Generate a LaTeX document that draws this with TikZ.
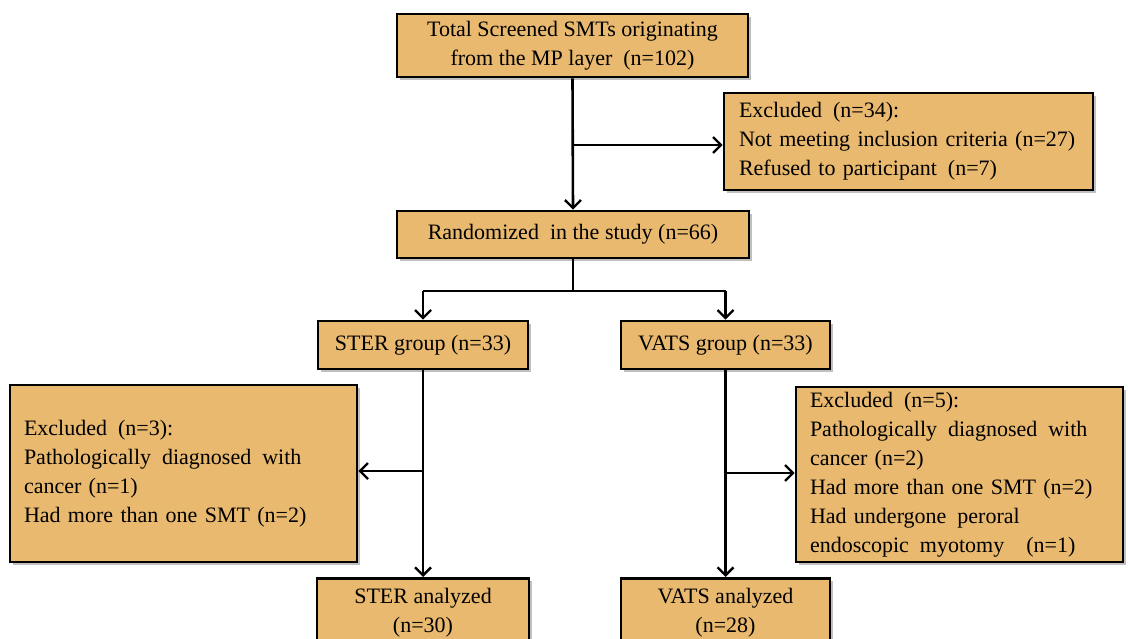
\documentclass[tikz,border=0pt]{standalone}
\usepackage{fontspec}
\setmainfont{Liberation Serif}
\usetikzlibrary{arrows.meta,shadows}
\definecolor{boxfill}{RGB}{232,185,110}
\begin{document}
\begin{tikzpicture}[x=1pt,y=-1pt,
  box/.style={draw=black, line width=2.6pt, fill=boxfill, rectangle, inner sep=0pt,
    font=\fontsize{22}{29}\selectfont,
    drop shadow={shadow xshift=3pt, shadow yshift=-3pt, fill=black!45, opacity=0.55}},
  cbox/.style={box, align=center},
  lbox/.style={box, align=left},
  conn/.style={line width=2.6pt, draw=black},
  arr/.style={conn, -{Straight Barb[length=8pt,width=16pt,line width=2.4pt]}}
]
\clip (0,0) rectangle (1128,639);
\fill[white] (0,0) rectangle (1128,639);

\node[cbox, minimum width=351pt, minimum height=63pt] (top) at (572.5,45.5)
  {Total Screened SMTs originating\\from the MP layer\enspace(n=102)};
\node[lbox, minimum width=369pt, minimum height=97pt, text width=339pt] (ex1) at (908.5,141.5)
  {Excluded\enspace(n=34):\\Not meeting inclusion criteria (n=27)\\Refused to participant\enspace(n=7)};
\node[cbox, minimum width=352pt, minimum height=47pt] (rand) at (573,234.5)
  {Randomized\enspace in the study (n=66)};
\node[cbox, minimum width=210pt, minimum height=48pt] (ster) at (423,345)
  {STER group (n=33)};
\node[cbox, minimum width=209pt, minimum height=48pt] (vats) at (725.5,345)
  {VATS group (n=33)};
\node[lbox, minimum width=347pt, minimum height=177pt, text width=319pt] (exl) at (183.5,473.5)
  {Excluded\enspace(n=3):\\Pathologically\enspace diagnosed\enspace with\\cancer (n=1)\\Had more than one SMT (n=2)};
\node[lbox, minimum width=327pt, minimum height=175pt, text width=299pt] (exr) at (959.5,474.5)
  {Excluded\enspace(n=5):\\Pathologically\enspace diagnosed\enspace with\\cancer (n=2)\\Had more than one SMT (n=2)\\Had undergone\enspace peroral\\endoscopic\enspace myotomy\enspace\enspace(n=1)};
\node[cbox, minimum width=212pt, minimum height=68pt, anchor=north] (sa) at (423,577)
  {STER analyzed\\(n=30)};
\node[cbox, minimum width=209pt, minimum height=68pt, anchor=north] (va) at (725.5,577)
  {VATS analyzed\\(n=28)};

\coordinate (b1) at (573,145);
\coordinate (b2) at (573,291);
\coordinate (bl) at (423,291);
\coordinate (br) at (725.5,291);
\coordinate (b3) at (423,471);
\coordinate (b4) at (725.5,473);

\draw[arr] (top.south) -- (rand.north);
\draw[arr] (b1) -- (ex1.west |- b1);
\draw[conn] (rand.south) -- (b2);
\draw[conn] (bl) -- (br);
\draw[arr] (bl) -- (ster.north);
\draw[arr] (br) -- (vats.north);
\draw[arr] (ster.south) -- (sa.north);
\draw[arr] (vats.south) -- (va.north);
\draw[arr] (b3) -- (exl.east |- b3);
\draw[arr] (b4) -- (exr.west |- b4);
\end{tikzpicture}
\end{document}
